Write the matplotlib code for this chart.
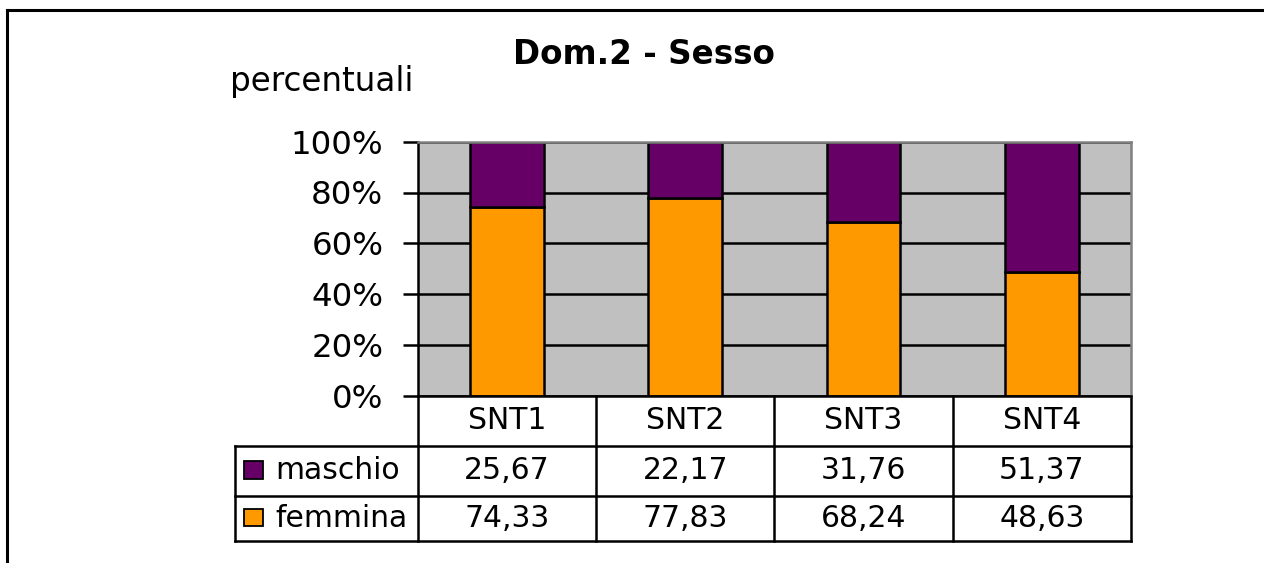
import matplotlib
matplotlib.use('Agg')
import matplotlib.pyplot as plt
import matplotlib.transforms as mtransforms
from matplotlib.lines import Line2D
from matplotlib.patches import Rectangle

# dati
categorie = ['SNT1', 'SNT2', 'SNT3', 'SNT4']
serie = ['maschio', 'femmina']
maschio = [25.67, 22.17, 31.76, 51.37]
femmina = [74.33, 77.83, 68.24, 48.63]
y_ticks = [0, 20, 40, 60, 80, 100]

colori = {'maschio': '#660066', 'femmina': '#FF9900'}
valori = {'maschio': maschio, 'femmina': femmina}

plt.rcParams['font.family'] = ['DejaVu Sans']

W, H = 1264, 563
LW = 1.8
fig = plt.figure(figsize=(W / 100, H / 100), dpi=100)
ax = fig.add_axes([417.7 / W, 1 - 395.7 / H, 713.3 / W, 254 / H])

x = list(range(len(categorie)))
ax.bar(x, femmina, width=0.413, color=colori['femmina'], edgecolor='black',
       linewidth=LW, zorder=2)
ax.bar(x, maschio, bottom=femmina, width=0.413, color=colori['maschio'],
       edgecolor='black', linewidth=LW, zorder=2)

ax.set_xlim(-0.5, len(categorie) - 0.5)
ax.set_ylim(0, 100)
ax.set_facecolor('#C0C0C0')
ax.set_yticks(y_ticks)
ax.set_yticklabels([f'{v}%' for v in y_ticks])
ax.set_xticks([])
ax.tick_params(axis='y', length=10.8, width=LW, pad=14, labelsize=23.4)
ax.set_axisbelow(True)
ax.yaxis.grid(True, color='black', linewidth=LW)
for s in ['top', 'right']:
    ax.spines[s].set_color('#808080')
    ax.spines[s].set_linewidth(LW)
for s in ['left', 'bottom']:
    ax.spines[s].set_color('black')
    ax.spines[s].set_linewidth(LW)

# tabella dati sotto il grafico
tr = mtransforms.blended_transform_factory(ax.transData, ax.transAxes)
righe = [0, -0.198, -0.394, -0.571]
x_leg = -1.525
kw = dict(transform=tr, clip_on=False, color='black', linewidth=LW)
for i in range(len(categorie) + 1):
    ax.plot([i - 0.5, i - 0.5], [righe[0], righe[-1]], **kw)
ax.plot([x_leg, x_leg], [righe[1], righe[-1]], **kw)
for r in righe[1:]:
    ax.plot([x_leg, len(categorie) - 0.5], [r, r], **kw)

ymid = [(righe[i] + righe[i + 1]) / 2 for i in range(len(righe) - 1)]
for i, c in enumerate(categorie):
    ax.text(i, ymid[0], c, transform=tr, ha='center', va='center', fontsize=21.5)
for k, nome in enumerate(serie):
    yy = ymid[k + 1]
    ax.add_patch(Rectangle((-1.474, yy - 0.030), 0.105, 0.068, transform=tr,
                           facecolor=colori[nome], edgecolor='black',
                           linewidth=1.3, clip_on=False))
    ax.text(-1.30, yy, nome, transform=tr, ha='left', va='center', fontsize=21.5)
    for i, v in enumerate(valori[nome]):
        ax.text(i, yy, f'{v:.2f}'.replace('.', ','), transform=tr,
                ha='center', va='center', fontsize=21.5)

# titoli
fig.text(644 / W, 1 - 64 / H, 'Dom.2 - Sesso', ha='center', va='baseline',
         fontsize=23.5, fontweight='bold')
fig.text(230 / W, 1 - 91 / H, 'percentuali', ha='left', va='baseline',
         fontsize=23.5)

# cornice esterna
fig.add_artist(Line2D([7 / W, 7 / W], [0, 1 - 10 / H], transform=fig.transFigure,
                      color='black', linewidth=2.2))
fig.add_artist(Line2D([7 / W, 1], [1 - 10 / H, 1 - 10 / H], transform=fig.transFigure,
                      color='black', linewidth=2.2))

fig.savefig('out.png', dpi=100)
